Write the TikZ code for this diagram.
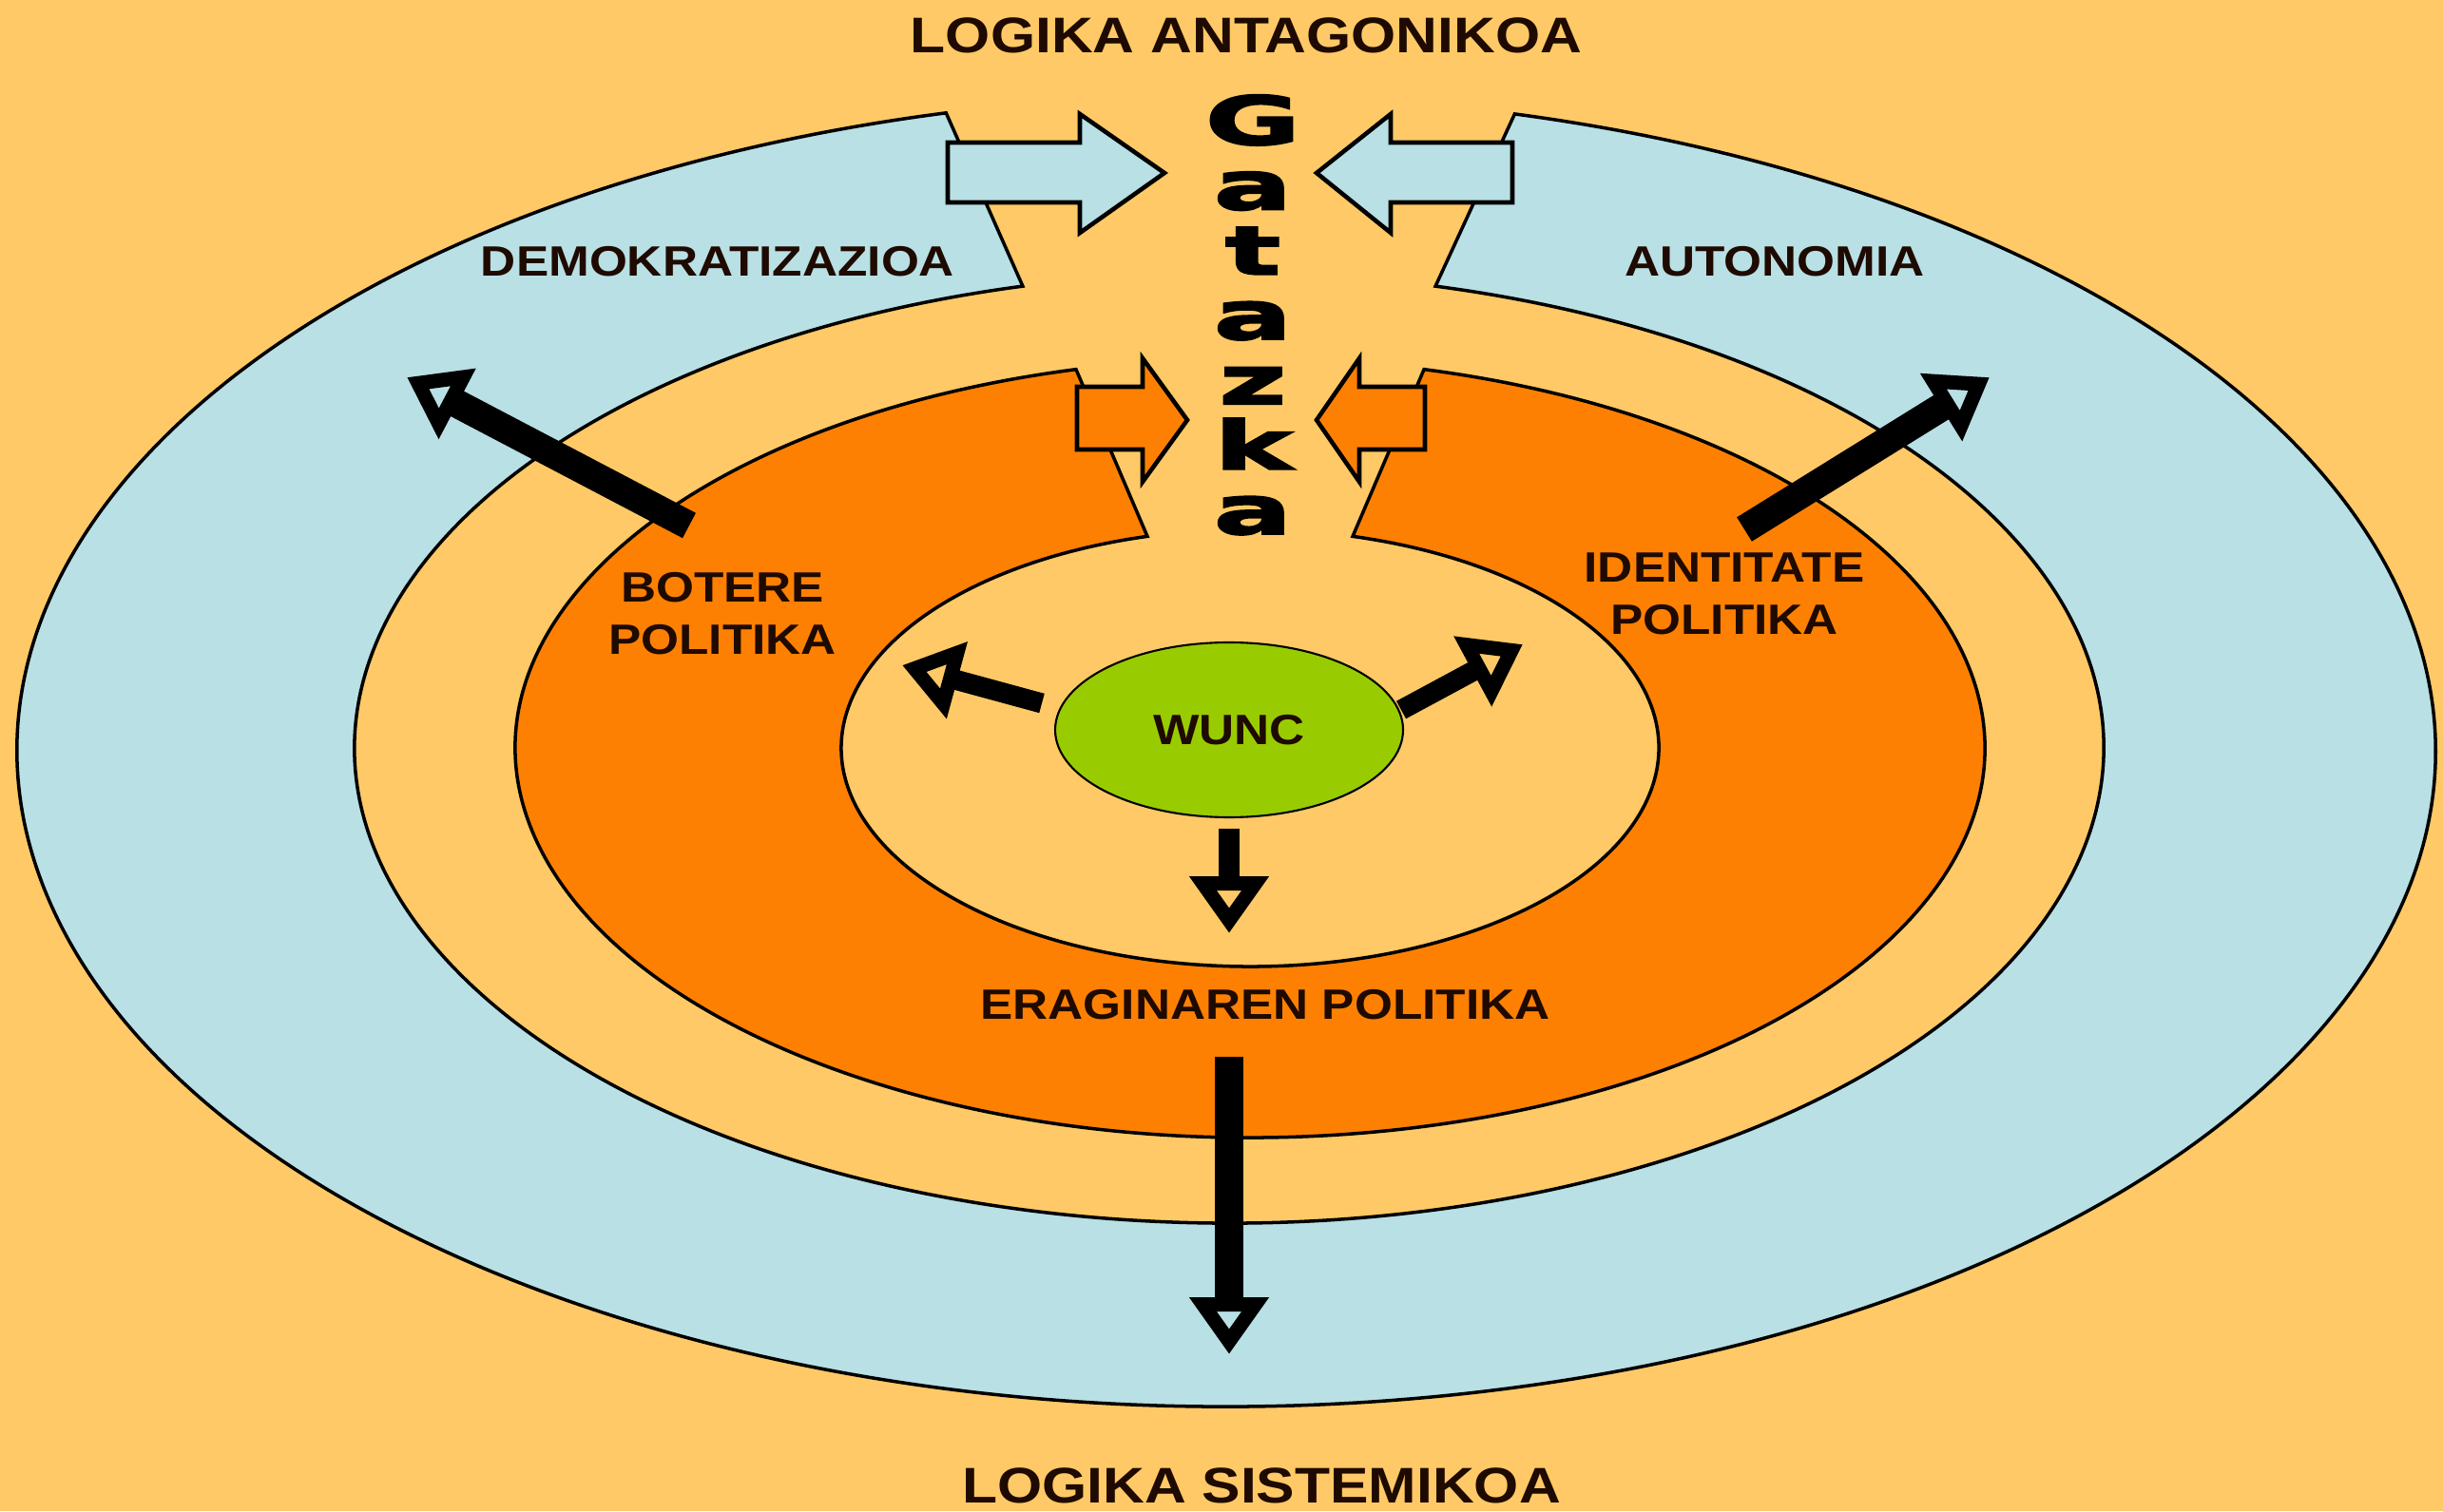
\documentclass[tikz,border=0pt]{standalone}
\usepackage{fontspec}
\usepackage{tikz}
\usetikzlibrary{arrows.meta,shapes.geometric}
\newfontfamily\lblfont{Liberation Sans}[FakeStretch=1.15]
\newfontfamily\gatfont{DejaVu Sans Bold}[FakeStretch=1.75,FakeBold=3]
\definecolor{sand}{HTML}{FEC966}
\definecolor{paleblue}{HTML}{B9E0E4}
\definecolor{tangerine}{HTML}{FE8002}
\definecolor{wuncgreen}{HTML}{99CC00}
\definecolor{inkbrown}{HTML}{1E0A00}

\tikzset{
  ring/.style={draw=black,line width=1pt},
  blockarrow/.style={draw=black,line width=1.3pt,line join=miter},
  push/.style={line width=8.5pt,-{Triangle[open,length=0.6cm,width=0.8cm,line width=5.5pt]}},
  nudge/.style={push,line width=6pt},
  lbl/.style={font=\lblfont\bfseries\fontsize{12.7}{15.6}\selectfont,text=inkbrown,align=center,inner sep=0pt},
  title/.style={font=\lblfont\bfseries\fontsize{15}{18}\selectfont,text=inkbrown,inner sep=0pt},
  gat/.style={font=\gatfont\fontsize{20}{20}\selectfont,inner sep=0pt}
}

\begin{document}
\begin{tikzpicture}
  \useasboundingbox[fill=sand] (0,0) rectangle (25.7,15.9);
  % outer ring, open at the top
  \filldraw[ring,fill=paleblue] ([shift={(12.90,8.00)}]103.4:12.72 and 6.90)
    arc[start angle=103.4,end angle=436.2,x radius=12.72,y radius=6.90]
    -- ([shift={(12.93,8.03)}]76.35:9.20 and 5.00)
    arc[start angle=76.35,end angle=-256.35,x radius=9.20,y radius=5.00] -- cycle;
  % orange ring, open at the top
  \filldraw[ring,fill=tangerine] ([shift={(13.15,8.03)}]103.7:7.73 and 4.10)
    arc[start angle=103.7,end angle=436.3,x radius=7.73,y radius=4.10]
    -- ([shift={(13.15,8.03)}]75.45:4.30 and 2.30)
    arc[start angle=75.45,end angle=-255.45,x radius=4.30,y radius=2.30] -- cycle;

  % block arrows into the gap
  \filldraw[blockarrow,fill=paleblue] (9.97,14.40) -- (11.36,14.40) -- (11.36,14.70)
    -- (12.25,14.08) -- (11.36,13.45) -- (11.36,13.77) -- (9.97,13.77) -- cycle;
  \filldraw[blockarrow,fill=paleblue] (15.91,14.40) -- (14.63,14.40) -- (14.63,14.70)
    -- (13.85,14.08) -- (14.63,13.45) -- (14.63,13.77) -- (15.91,13.77) -- cycle;
  \filldraw[blockarrow,fill=tangerine] (11.33,11.83) -- (12.02,11.83) -- (12.02,12.13)
    -- (12.49,11.48) -- (12.02,10.83) -- (12.02,11.17) -- (11.33,11.17) -- cycle;
  \filldraw[blockarrow,fill=tangerine] (14.99,11.83) -- (14.30,11.83) -- (14.30,12.13)
    -- (13.85,11.48) -- (14.30,10.83) -- (14.30,11.17) -- (14.99,11.17) -- cycle;

  \foreach \ch [count=\i] in {G,a,t,a,z,k,a}
    \node[gat,anchor=base] (gat\i) at (13.18,{14.38-0.683*(\i-1)}) {\ch};

  \node[lbl,ellipse,draw=black,line width=0.6pt,fill=wuncgreen,
        minimum width=3.66cm,minimum height=1.84cm] (wunc) at (12.93,8.22) {WUNC};

  \node[title] (antag) at (13.11,15.53) {LOGIKA ANTAGONIKOA};
  \node[title] (sistem) at (13.27,0.27) {LOGIKA SISTEMIKOA};
  \node[lbl] (demok) at (7.55,13.15) {DEMOKRATIZAZIOA};
  \node[lbl] (auton) at (18.67,13.15) {AUTONOMIA};
  \node[lbl] (botere) at (7.60,9.44) {BOTERE\\POLITIKA};
  \node[lbl] (ident) at (18.14,9.65) {IDENTITATE\\POLITIKA};
  \node[lbl] (eragin) at (13.31,5.33) {ERAGINAREN POLITIKA};

  % thick arrows
  \coordinate (botT) at (7.25,10.37);  \coordinate (botH) at (4.28,11.93);
  \coordinate (ideT) at (18.35,10.33); \coordinate (ideH) at (20.93,11.93);
  \coordinate (wlT) at (10.96,8.50);   \coordinate (wlH) at (9.49,8.90);
  \coordinate (wrT) at (14.74,8.43);   \coordinate (wrH) at (16.02,9.12);
  \coordinate (wdT) at (12.93,7.18);   \coordinate (wdH) at (12.93,6.08);
  \coordinate (bigT) at (12.93,4.78);  \coordinate (bigH) at (12.93,1.65);
  \draw[push] (botT) -- (botH);
  \draw[push] (ideT) -- (ideH);
  \draw[push] (bigT) -- (bigH);
  \draw[nudge] (wlT) -- (wlH);
  \draw[nudge] (wrT) -- (wrH);
  \draw[nudge] (wdT) -- (wdH);
\end{tikzpicture}
\end{document}
